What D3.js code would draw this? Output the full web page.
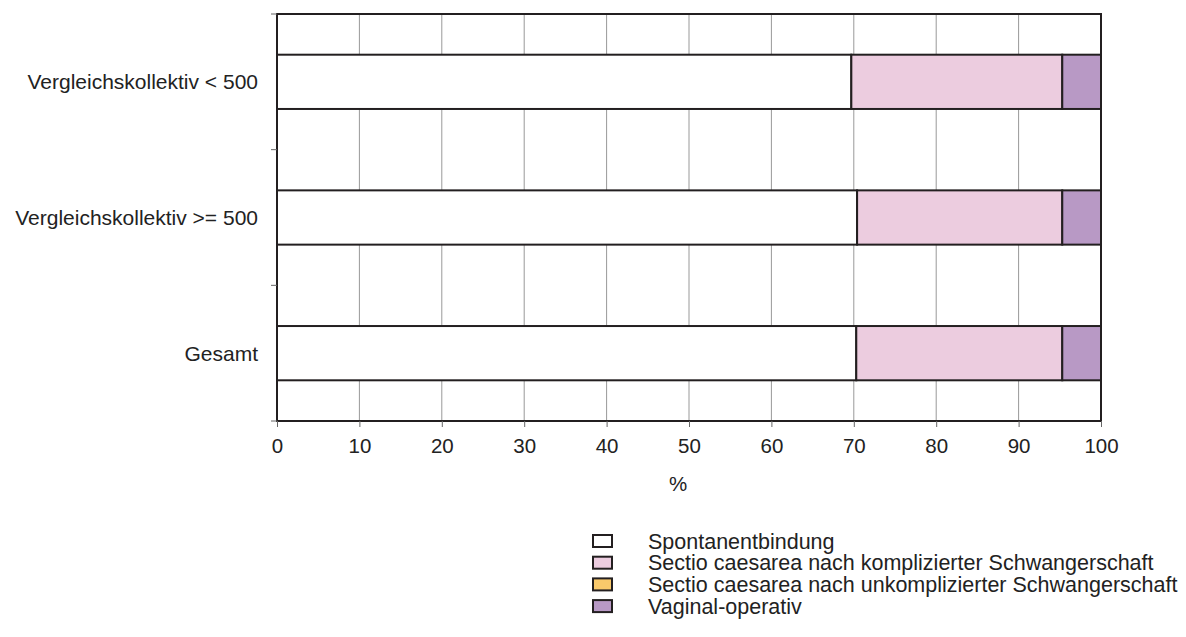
<!DOCTYPE html>
<html><head><meta charset="utf-8">
<script src="https://cdn.jsdelivr.net/npm/d3@7"></script>
<style>body{margin:0;background:#fff;}svg{display:block;font-family:"Liberation Sans",Arial,sans-serif;}</style>
</head><body>
<svg id="c" width="1186" height="637"></svg>
<script>
const categories = ["Vergleichskollektiv < 500", "Vergleichskollektiv >= 500", "Gesamt"];
const seriesNames = ["Spontanentbindung", "Sectio caesarea nach komplizierter Schwangerschaft", "Sectio caesarea nach unkomplizierter Schwangerschaft", "Vaginal-operativ"];
const spontan = [69.7, 70.4, 70.3];
const sectioKompl = [25.6, 24.9, 25.0];
const sectioUnkompl = [0, 0, 0];
const vaginalOp = [4.7, 4.7, 4.7];
const colors = ["#ffffff", "#ecccdf", "#f9c96b", "#b899c5"];
const xTicks = [0,10,20,30,40,50,60,70,80,90,100];

const FS = 20.5;
const svg = d3.select("#c");
const L = 277, R = 1101, T = 14, B = 421;
const x = d3.scaleLinear().domain([0,100]).range([L,R]);
const y = d3.scaleBand().domain(categories).range([T,B]).paddingInner(0).paddingOuter(0);
const barH = y.bandwidth()*0.4;

// grid
svg.append("g").selectAll("line").data(xTicks.slice(1,-1)).join("line")
  .attr("x1",d=>x(d)).attr("x2",d=>x(d)).attr("y1",T).attr("y2",B)
  .attr("stroke","#999").attr("stroke-width",1);

// bars
const table = categories.map((c,i)=>({cat:c, vals:[spontan[i],sectioKompl[i],sectioUnkompl[i],vaginalOp[i]]}));
const stack = d3.stack().keys([0,1,2,3]).value((d,k)=>d.vals[k]);
const stacked = stack(table);
stacked.forEach((layer,k)=>{
  svg.append("g").selectAll("rect").data(layer.filter(d=>d[1]-d[0]>0)).join("rect")
    .attr("x",d=>x(d[0])).attr("width",d=>x(d[1])-x(d[0]))
    .attr("y",d=>y(d.data.cat)+(y.bandwidth()-barH)/2).attr("height",barH)
    .attr("fill",colors[k]).attr("stroke","#231f20").attr("stroke-width",2);
});

// frame
svg.append("rect").attr("x",L).attr("y",T).attr("width",R-L).attr("height",B-T)
  .attr("fill","none").attr("stroke","#231f20").attr("stroke-width",2);

// x axis ticks
const xa = svg.append("g").attr("transform",`translate(0,${B})`).call(d3.axisBottom(x).tickValues(xTicks).tickSize(6).tickPadding(11));
xa.attr("font-size",null).attr("font-family",null);
xa.select(".domain").remove();
xa.selectAll(".tick line").attr("stroke","#666");
xa.selectAll("text").attr("font-size",FS).attr("fill","#222");

// y axis boundary ticks
const yb = [T, ...categories.map(c=>y(c)+y.bandwidth())];
svg.append("g").selectAll("line").data(yb).join("line")
  .attr("x1",L-6).attr("x2",L).attr("y1",d=>d).attr("y2",d=>d).attr("stroke","#666");

// category labels
svg.append("g").selectAll("text").data(categories).join("text")
  .attr("x",258).attr("y",d=>y(d)+y.bandwidth()/2).attr("dy","0.35em")
  .attr("text-anchor","end").attr("font-size",21).attr("fill","#222").text(d=>d);

// x title
svg.append("text").attr("x",678).attr("y",491).attr("text-anchor","middle")
  .attr("font-size",FS).attr("fill","#222").text("%");

// legend
const lg = svg.append("g").attr("transform","translate(593,535)");
seriesNames.forEach((n,i)=>{
  const g = lg.append("g").attr("transform",`translate(0,${i*21.7})`);
  g.append("rect").attr("x",0).attr("y",0).attr("width",19).attr("height",12)
    .attr("fill",colors[i]).attr("stroke","#231f20").attr("stroke-width",2);
  g.append("text").attr("x",55).attr("y",6).attr("dy","0.35em").attr("font-size",21.5).attr("fill","#222").text(n);
});
</script>
</body></html>
